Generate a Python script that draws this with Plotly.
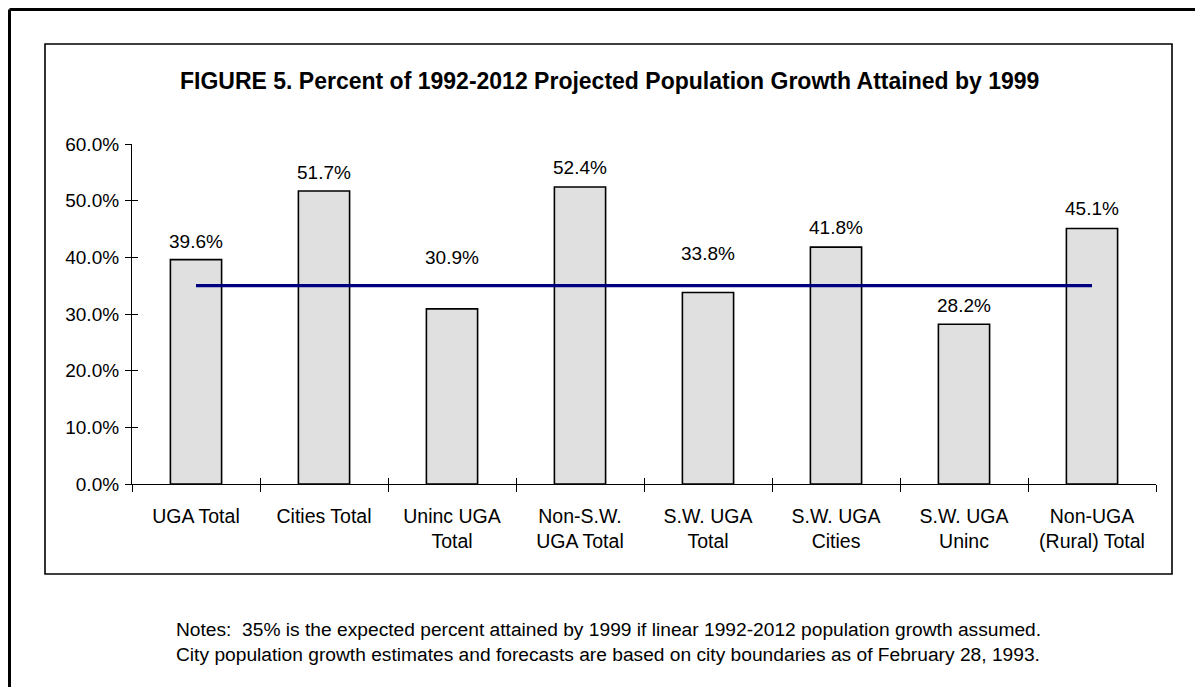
import plotly.graph_objects as go

categories = ["UGA Total", "Cities Total", "Uninc UGA<br>Total", "Non-S.W.<br>UGA Total",
              "S.W. UGA<br>Total", "S.W. UGA<br>Cities", "S.W. UGA<br>Uninc", "Non-UGA<br>(Rural) Total"]
values = [39.6, 51.7, 30.9, 52.4, 33.8, 41.8, 28.2, 45.1]
expected = [35.0] * len(categories)
y_ticks = [0, 10, 20, 30, 40, 50, 60]
y_tick_labels = ["0.0%", "10.0%", "20.0%", "30.0%", "40.0%", "50.0%", "60.0%"]
title_text = "FIGURE 5. Percent of 1992-2012 Projected Population Growth Attained by 1999"
note1 = "Notes:  35% is the expected percent attained by 1999 if linear 1992-2012 population growth assumed."
note2 = "City population growth estimates and forecasts are based on city boundaries as of February 28, 1993."

label_shift = [18, 19, 51, 20, 39, 20, 19, 20]

OFF = 8  # page body margin
W, H = 1203 - OFF, 687 - OFF
# plot-area bounds in screen pixels
L, R, T, B = 132, 1156, 144, 484


def px(x):
    return (x - L) / (R - L)


def py(y):
    return (B - y) / (B - T)


FONT = "Liberation Sans, Arial, sans-serif"

fig = go.Figure()
fig.add_trace(go.Bar(
    x=categories, y=values, width=0.4,
    marker=dict(color="#e0e0e0", line=dict(color="black", width=1.6)),
    hoverinfo="skip", showlegend=False,
))
fig.add_trace(go.Scatter(
    x=categories, y=expected, mode="lines",
    line=dict(color="#000080", width=3.2),
    hoverinfo="skip", showlegend=False,
))
fig.add_trace(go.Scatter(x=categories, y=values, xaxis="x2", yaxis="y2",
                         mode="markers", marker=dict(opacity=0), showlegend=False,
                         hoverinfo="skip"))

for c, v, s in zip(categories, values, label_shift):
    fig.add_annotation(x=c, y=v, text=f"{v:.1f}%", showarrow=False,
                       yanchor="middle", yshift=s,
                       font=dict(family=FONT, size=19, color="black"))

fig.add_annotation(xref="paper", yref="paper", x=px(609), y=py(81), text=f"<b>{title_text}</b>",
                   showarrow=False, xanchor="center", yanchor="middle",
                   font=dict(family=FONT, size=23, color="black"))
fig.add_annotation(xref="paper", yref="paper", x=px(174), y=py(629), text=note1,
                   showarrow=False, xanchor="left", yanchor="middle",
                   font=dict(family=FONT, size=19.2, color="black"))
fig.add_annotation(xref="paper", yref="paper", x=px(174), y=py(654), text=note2,
                   showarrow=False, xanchor="left", yanchor="middle",
                   font=dict(family=FONT, size=19.2, color="black"))

fig.add_shape(type="rect", xref="paper", yref="paper",
              x0=px(45), x1=px(1172), y0=py(574), y1=py(44),
              line=dict(color="black", width=1.6), layer="below")
# outer frame (left + top edges)
fig.add_shape(type="line", xref="paper", yref="paper",
              x0=px(9.5), x1=px(9.5), y0=py(9.5), y1=py(700),
              line=dict(color="black", width=3))
fig.add_shape(type="line", xref="paper", yref="paper",
              x0=px(9.5), x1=px(1215), y0=py(9.5), y1=py(9.5),
              line=dict(color="black", width=3))

axis_common = dict(showgrid=False, zeroline=False, linecolor="black", linewidth=1.2,
                   tickcolor="black", tickwidth=1.2)

fig.update_layout(
    width=W, height=H,
    margin=dict(l=L - OFF, r=W - (R - OFF), t=T - OFF, b=H - (B - OFF)),
    paper_bgcolor="white", plot_bgcolor="white",
    font=dict(family=FONT, size=18, color="black"),
    xaxis=dict(**axis_common, type="category", tickson="boundaries", ticks="outside",
               ticklen=7, showline=True, range=[-0.5, 7.5], ticklabelstandoff=14,
               tickfont=dict(family=FONT, size=19.5)),
    yaxis=dict(**axis_common, range=[0, 60], tickvals=y_ticks, ticktext=y_tick_labels,
               ticks="outside", ticklen=6, showline=True, ticklabelstandoff=2,
               tickfont=dict(family=FONT, size=19)),
    xaxis2=dict(**axis_common, type="category", overlaying="x", anchor="y2", side="bottom",
                tickson="boundaries", ticks="inside", ticklen=6, showticklabels=False,
                showline=False, range=[-0.5, 7.5], matches="x"),
    yaxis2=dict(**axis_common, overlaying="y", anchor="x2", side="left", range=[0, 60],
                tickvals=y_ticks, ticks="inside", ticklen=6, showticklabels=False,
                showline=False),
    bargap=0.6,
)

fig.write_html("out.html")
